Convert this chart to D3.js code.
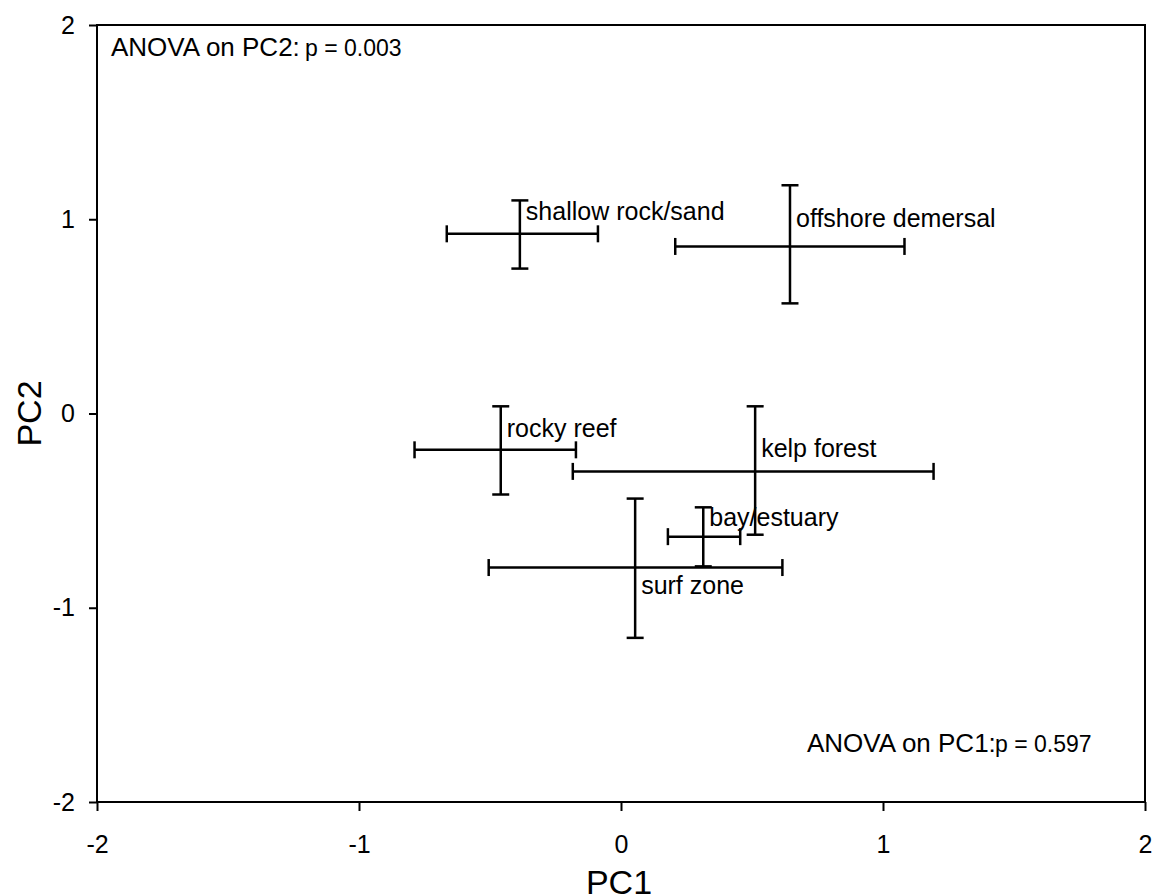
<!DOCTYPE html>
<html>
<head>
<meta charset="utf-8">
<script src="https://cdn.jsdelivr.net/npm/d3@7"></script>
<style>
  body { margin: 0; background: #fff; }
  text { font-family: "Liberation Sans", Arial, sans-serif; fill: #000; }
</style>
</head>
<body>
<svg id="chart" width="1156" height="896"></svg>
<script>
// habitat groups: mean PC scores with error bar ends
const habitats = ["shallow rock/sand", "offshore demersal", "rocky reef", "kelp forest", "bay/estuary", "surf zone"];
const pc1Mean = [-0.386, 0.645, -0.459, 0.512, 0.314, 0.054];
const pc1Low  = [-0.665, 0.207, -0.788, -0.184, 0.179, -0.505];
const pc1High = [-0.088, 1.082, -0.172, 1.193, 0.455, 0.616];
const pc2Mean = [0.925, 0.860, -0.187, -0.298, -0.634, -0.793];
const pc2Low  = [0.746, 0.567, -0.417, -0.624, -0.787, -1.155];
const pc2High = [1.097, 1.175, 0.037, 0.037, -0.483, -0.438];
// label baselines (data units on PC2)
const labelY  = [0.995, 0.960, -0.122, -0.225, -0.577, -0.928];

const xTicks = [-2, -1, 0, 1, 2];
const yTicks = [-2, -1, 0, 1, 2];

const svg = d3.select("#chart");
const m = { left: 97, right: 1145, top: 25, bottom: 802 };

const x = d3.scaleLinear().domain([-2, 2]).range([m.left, m.right]);
const y = d3.scaleLinear().domain([-2, 2]).range([m.bottom, m.top]);

// frame
svg.append("rect")
  .attr("x", m.left).attr("y", m.top)
  .attr("width", m.right - m.left).attr("height", m.bottom - m.top)
  .attr("fill", "none").attr("stroke", "#000").attr("stroke-width", 2);

// axes
const xAxis = svg.append("g")
  .attr("transform", `translate(0,${m.bottom})`)
  .call(d3.axisBottom(x).tickValues(xTicks).tickSize(9).tickPadding(24).tickFormat(d3.format("d")));
const yAxis = svg.append("g")
  .attr("transform", `translate(${m.left},0)`)
  .call(d3.axisLeft(y).tickValues(yTicks).tickSize(8).tickPadding(14).tickFormat(d3.format("d")));

[xAxis, yAxis].forEach(g => {
  g.select(".domain").remove();
  g.selectAll(".tick line").attr("stroke", "#000").attr("stroke-width", 2);
  g.selectAll(".tick text").style("font-size", "25px").attr("font-family", null);
});
// use hyphen minus like the original
svg.selectAll(".tick text").text(d => String(d).replace("\u2212", "-"));

// axis titles
svg.append("text")
  .attr("x", x(0) - 2).attr("y", 894)
  .attr("text-anchor", "middle").style("font-size", "34px")
  .text("PC1");
svg.append("text")
  .attr("transform", `translate(41,${y(0)}) rotate(-90)`)
  .attr("text-anchor", "middle").style("font-size", "34px")
  .text("PC2");

// error bars
const cap = 8.5;
const groups = svg.append("g").selectAll("g")
  .data(habitats)
  .enter().append("g")
  .attr("stroke", "#000").attr("stroke-width", 2.5).attr("fill", "none");

groups.each(function(name, i){
  const g = d3.select(this);
  const cx = x(pc1Mean[i]), cy = y(pc2Mean[i]);
  // horizontal bar
  g.append("line").attr("x1", x(pc1Low[i])).attr("x2", x(pc1High[i])).attr("y1", cy).attr("y2", cy);
  g.append("line").attr("x1", x(pc1Low[i])).attr("x2", x(pc1Low[i])).attr("y1", cy - cap).attr("y2", cy + cap);
  g.append("line").attr("x1", x(pc1High[i])).attr("x2", x(pc1High[i])).attr("y1", cy - cap).attr("y2", cy + cap);
  // vertical bar
  g.append("line").attr("x1", cx).attr("x2", cx).attr("y1", y(pc2Low[i])).attr("y2", y(pc2High[i]));
  g.append("line").attr("x1", cx - cap).attr("x2", cx + cap).attr("y1", y(pc2Low[i])).attr("y2", y(pc2Low[i]));
  g.append("line").attr("x1", cx - cap).attr("x2", cx + cap).attr("y1", y(pc2High[i])).attr("y2", y(pc2High[i]));
});

// labels
svg.append("g").selectAll("text")
  .data(habitats)
  .enter().append("text")
  .attr("x", (d, i) => x(pc1Mean[i]) + 6)
  .attr("y", (d, i) => y(labelY[i]))
  .style("font-size", "25px")
  .text(d => d);

// ANOVA notes
svg.append("text").attr("x", 111).attr("y", 56).style("font-size", "26px").text("ANOVA on PC2:");
svg.append("text").attr("x", 305).attr("y", 56).style("font-size", "23px").text("p = 0.003");

svg.append("text").attr("x", 807).attr("y", 752).style("font-size", "26px").text("ANOVA on PC1:");
svg.append("text").attr("x", 995).attr("y", 752).style("font-size", "23px").text("p = 0.597");
</script>
</body>
</html>
